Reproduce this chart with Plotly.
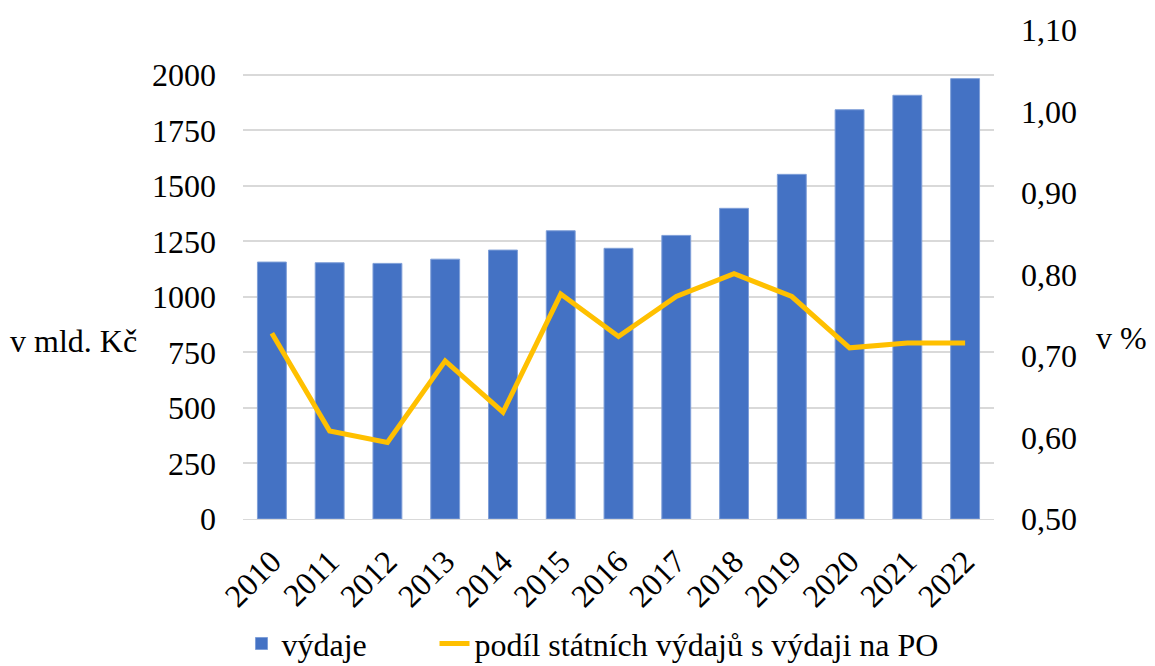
import plotly.graph_objects as go

years = ["2010", "2011", "2012", "2013", "2014", "2015", "2016",
         "2017", "2018", "2019", "2020", "2021", "2022"]
vydaje = [1157, 1154, 1151, 1170, 1211, 1298, 1219,
          1277, 1399, 1552, 1843, 1908, 1983]
podil = [0.728, 0.608, 0.594, 0.694, 0.631, 0.776, 0.724,
         0.773, 0.801, 0.773, 0.710, 0.716, 0.716]

left_ticks = [0, 250, 500, 750, 1000, 1250, 1500, 1750, 2000]
right_ticks = [0.5, 0.6, 0.7, 0.8, 0.9, 1.0, 1.1]
right_labels = ["0,50", "0,60", "0,70", "0,80", "0,90", "1,00", "1,10"]

FONT = "Liberation Serif"

fig = go.Figure()

fig.add_trace(go.Bar(
    x=years, y=vydaje, name="výdaje",
    marker=dict(color="#4472C4", line=dict(color="#7f9fd8", width=1)),
    legend="legend",
))

fig.add_trace(go.Scatter(
    x=years, y=podil, name="podíl státních výdajů s výdaji na PO",
    yaxis="y2", mode="lines",
    line=dict(color="#FFC000", width=5),
    legend="legend2",
))

legend_style = dict(
    orientation="h", y=-0.255, yanchor="middle", xanchor="left",
    font=dict(family=FONT, size=32, color="black"), itemwidth=30,
)

# page body has an 8px margin, so the figure is a bit smaller than the window
fig.update_layout(
    width=1147, height=658,
    margin=dict(l=235, r=161, t=22, b=147, autoexpand=False),
    paper_bgcolor="white", plot_bgcolor="white",
    font=dict(family=FONT, size=32, color="black"),
    bargap=0.5,
    showlegend=True,
    legend=dict(x=-0.002, **legend_style),
    legend2=dict(x=0.255, **legend_style),
    xaxis=dict(
        tickangle=-45, showgrid=False,
        showline=True, linecolor="#d9d9d9", linewidth=1,
        ticks="", ticklabelstandoff=10,
        tickfont=dict(family=FONT, size=32),
    ),
    yaxis=dict(
        range=[0, 2202], tickvals=left_ticks,
        showgrid=True, gridcolor="#d9d9d9", gridwidth=1.5,
        zeroline=False, ticks="", ticklabelstandoff=26,
        tickfont=dict(family=FONT, size=32),
    ),
    yaxis2=dict(
        overlaying="y", side="right",
        range=[0.5, 1.1], tickvals=right_ticks, ticktext=right_labels,
        showgrid=False, zeroline=False, ticks="", ticklabelstandoff=26,
        tickfont=dict(family=FONT, size=32),
    ),
    annotations=[
        dict(text="v mld. Kč", xref="paper", yref="paper",
             x=-0.226, y=0.365, xanchor="center", yanchor="middle",
             showarrow=False, font=dict(family=FONT, size=32)),
        dict(text="v %", xref="paper", yref="paper",
             x=1.17, y=0.37, xanchor="center", yanchor="middle",
             showarrow=False, font=dict(family=FONT, size=32)),
    ],
)

fig.write_html("out.html")
